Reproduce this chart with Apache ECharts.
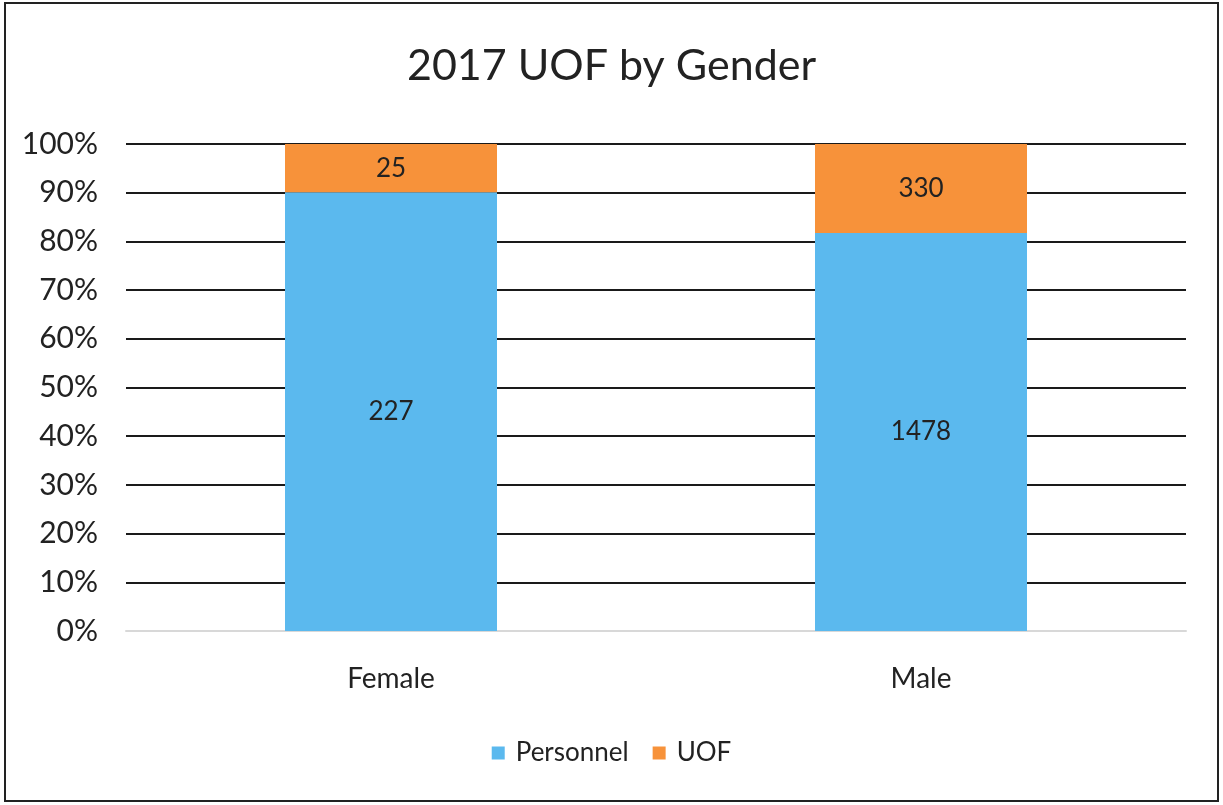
<!DOCTYPE html>
<html>
<head>
<meta charset="utf-8">
<script src="https://cdn.jsdelivr.net/npm/echarts@6/dist/echarts.min.js"></script>
<style>
  html, body { margin: 0; padding: 0; background: #fff; }
  #chart { width: 1223px; height: 805px; }
</style>
</head>
<body>
<div id="chart"></div>
<script>
var categories = ['Female', 'Male']
var personnel = [227, 1478]
var uof = [25, 330]
var yTicks = [0, 10, 20, 30, 40, 50, 60, 70, 80, 90, 100]

var font = 'Lato, "Open Sans", sans-serif'

// 100% stacked: turn counts into shares, keep raw counts for labels
function share(arr, i) {
  return arr[i] / (personnel[i] + uof[i]) * 100
}
var personnelPct = categories.map(function (c, i) {
  return { value: share(personnel, i), count: personnel[i] }
})
var uofPct = categories.map(function (c, i) {
  return { value: share(uof, i), count: uof[i] }
})

var myChart = echarts.init(document.getElementById('chart'))

var label = {
  show: true,
  position: 'inside',
  color: '#222',
  fontFamily: font,
  fontSize: 26,
  formatter: function (p) { return p.data.count }
}

var option = {
  animation: false,
  title: {
    text: '2017 UOF by Gender',
    left: 'center',
    top: 40,
    textStyle: { fontFamily: font, fontSize: 43, fontWeight: 'normal', color: '#222' }
  },
  legend: {
    bottom: 34,
    left: 'center',
    itemWidth: 13,
    itemHeight: 13,
    itemGap: 24,
    icon: 'rect',
    textStyle: { fontFamily: font, fontSize: 26, color: '#222', padding: [0, 0, 0, 6] },
    data: ['Personnel', 'UOF']
  },
  grid: { left: 126, right: 37, top: 144, bottom: 174 },
  xAxis: {
    type: 'category',
    data: categories,
    axisLine: { lineStyle: { color: '#d8d8d8', width: 2 } },
    axisTick: { show: false },
    axisLabel: { fontFamily: font, fontSize: 28, color: '#222', margin: 34 }
  },
  yAxis: {
    type: 'value',
    min: 0,
    max: 100,
    interval: 10,
    axisLine: { show: false },
    axisTick: { show: false },
    axisLabel: {
      fontFamily: font,
      fontSize: 30,
      color: '#222',
      margin: 28,
      formatter: function (v) { return yTicks.indexOf(v) >= 0 ? v + '%' : '' }
    },
    splitLine: { lineStyle: { color: '#1a1a1a', width: 2 } }
  },
  series: [
    {
      name: 'Personnel',
      type: 'bar',
      stack: 'total',
      barWidth: '40%',
      itemStyle: { color: '#5bb9ee' },
      label: label,
      data: personnelPct
    },
    {
      name: 'UOF',
      type: 'bar',
      stack: 'total',
      barWidth: '40%',
      itemStyle: { color: '#f7923a' },
      label: label,
      data: uofPct
    }
  ],
  graphic: [{
    type: 'rect',
    shape: { x: 5, y: 3, width: 1213, height: 798 },
    style: { fill: 'none', stroke: '#222', lineWidth: 2 },
    silent: true
  }]
}

myChart.setOption(option)
</script>
</body>
</html>
